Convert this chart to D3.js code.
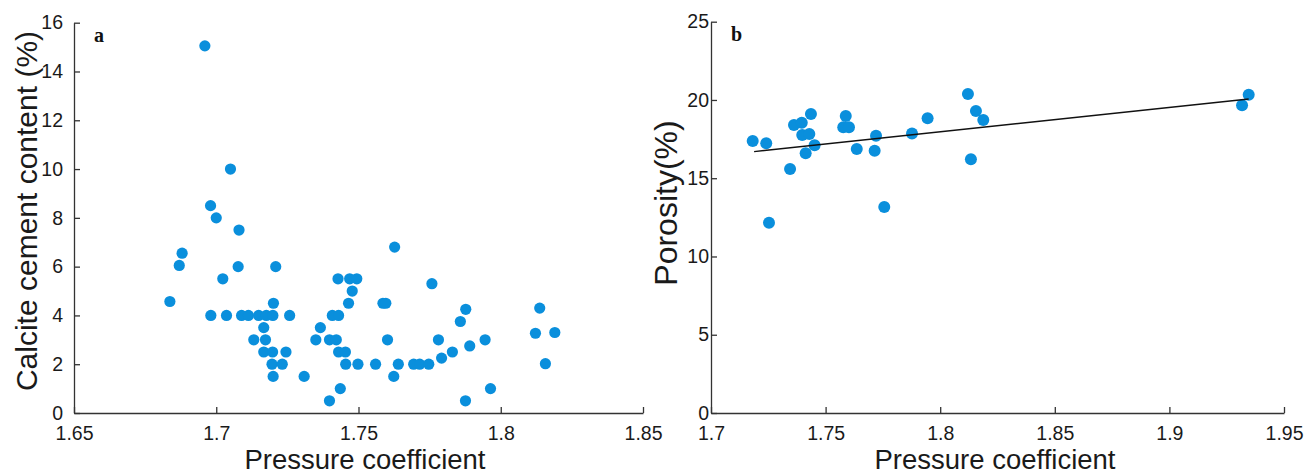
<!DOCTYPE html>
<html>
<head>
<meta charset="utf-8">
<script src="https://cdn.jsdelivr.net/npm/d3@7"></script>
<style>
  html, body { margin: 0; padding: 0; background: #fff; }
  svg { display: block; font-family: "Liberation Sans", Arial, sans-serif; }
</style>
</head>
<body>
<svg id="chart"></svg>
<script>
// Panel a: pressure coefficient vs calcite cement content (%)
const calciteX = [1.696, 1.705, 1.698, 1.700, 1.708, 1.688, 1.687, 1.7077, 1.7209, 1.7023,
  1.6837, 1.6981, 1.7036, 1.7089, 1.7113, 1.7149, 1.7176, 1.7199, 1.7258, 1.7408,
  1.7430, 1.7201, 1.7167, 1.7132, 1.7173, 1.7167, 1.7198, 1.7245, 1.7196, 1.7232,
  1.7200, 1.7309, 1.7398, 1.7436, 1.7350, 1.7366, 1.7398, 1.7422, 1.7430, 1.7454,
  1.7455, 1.7498, 1.7465, 1.7478, 1.7428, 1.7469, 1.7494, 1.7560, 1.7586, 1.7596,
  1.7602, 1.7627, 1.7624, 1.7640, 1.7694, 1.7715, 1.7747, 1.7758, 1.7877, 1.7858,
  1.7781, 1.7945, 1.7891, 1.7830, 1.7792, 1.7876, 1.7964, 1.8137, 1.8122, 1.8190,
  1.8157];
const calciteY = [15.05, 10.0, 8.5, 8.0, 7.5, 6.55, 6.05, 6.0, 6.0, 5.5,
  4.57, 4.0, 4.0, 4.0, 4.0, 4.0, 4.0, 4.0, 4.0, 4.0,
  4.0, 4.5, 3.5, 3.0, 3.0, 2.5, 2.5, 2.5, 2.0, 2.0,
  1.5, 1.5, 0.5, 1.0, 3.0, 3.5, 3.0, 3.0, 2.5, 2.5,
  2.0, 2.0, 4.5, 5.0, 5.5, 5.5, 5.5, 2.0, 4.5, 4.5,
  3.0, 6.8, 1.5, 2.0, 2.0, 2.0, 2.0, 5.3, 4.25, 3.75,
  3.0, 3.0, 2.75, 2.5, 2.25, 0.5, 1.0, 4.3, 3.27, 3.3,
  2.02];

// Panel b: pressure coefficient vs porosity (%)
const porosityX = [1.7182, 1.7241, 1.7253, 1.7345, 1.7362, 1.7396, 1.7436, 1.7398, 1.7429, 1.7452,
  1.7413, 1.7588, 1.7577, 1.7602, 1.7636, 1.7720, 1.7714, 1.7756, 1.7877, 1.7945,
  1.8121, 1.8134, 1.8156, 1.8188, 1.9317, 1.9346];
const porosityY = [17.38, 17.23, 12.16, 15.59, 18.40, 18.55, 19.11, 17.76, 17.83, 17.11,
  16.59, 18.98, 18.26, 18.26, 16.87, 17.72, 16.76, 13.16, 17.85, 18.83,
  20.38, 16.21, 19.30, 18.72, 19.66, 20.34];

// Fitted trend line for panel b (end points)
const trendX = [1.7188, 1.9346];
const trendY = [16.70, 20.06];

// Tick values
const ticksAX = [1.65, 1.7, 1.75, 1.8, 1.85];
const ticksAY = [0, 2, 4, 6, 8, 10, 12, 14, 16];
const ticksBX = [1.7, 1.75, 1.8, 1.85, 1.9, 1.95];
const ticksBY = [0, 5, 10, 15, 20, 25];

const width = 1312, height = 476;
const dotColor = "#0a8fdc";
const axisColor = "#333";

const svg = d3.select("#chart")
    .attr("width", width)
    .attr("height", height);

const fmt = d => String(+d.toFixed(2));

function drawPanel(opt) {
    const x = d3.scaleLinear().domain(opt.xDomain).range([opt.left, opt.right]);
    const y = d3.scaleLinear().domain(opt.yDomain).range([opt.bottom, opt.top]);
    const g = svg.append("g");

    const xAxis = g.append("g")
        .attr("transform", `translate(0,${opt.bottom})`)
        .call(d3.axisBottom(x).tickValues(opt.xTicks).tickFormat(fmt)
            .tickSizeInner(-6).tickSizeOuter(0).tickPadding(13));
    const yAxis = g.append("g")
        .attr("transform", `translate(${opt.left},0)`)
        .call(d3.axisLeft(y).tickValues(opt.yTicks).tickFormat(fmt)
            .tickSizeInner(-6).tickSizeOuter(0).tickPadding(opt.yPad));

    [xAxis, yAxis].forEach(a => {
        a.selectAll("path, line").attr("stroke", axisColor).attr("stroke-width", 1.3);
        a.selectAll("text")
            .attr("fill", "#1a1a1a")
            .style("font-size", "19.5px")
            .style("font-family", "'Liberation Sans', Arial, sans-serif");
    });

    // scatter points
    g.append("g").selectAll("circle")
        .data(opt.xs.map((v, i) => ({ x: v, y: opt.ys[i] })))
        .enter()
        .append("circle")
        .attr("cx", d => x(d.x))
        .attr("cy", d => y(d.y))
        .attr("r", opt.r)
        .attr("fill", dotColor);

    if (opt.trend) {
        const line = d3.line().x(d => x(d.x)).y(d => y(d.y));
        g.append("path")
            .datum(opt.trend)
            .attr("d", line)
            .attr("fill", "none")
            .attr("stroke", "#111")
            .attr("stroke-width", 1.4);
    }

    // panel letter
    g.append("text")
        .attr("x", opt.letterX)
        .attr("y", opt.top + 19)
        .attr("font-family", "'Liberation Serif', 'Times New Roman', serif")
        .attr("font-weight", "bold")
        .attr("font-size", 20)
        .attr("fill", "#111")
        .text(opt.letter);

    // x label
    g.append("text")
        .attr("x", opt.xLabelX)
        .attr("y", 469)
        .attr("text-anchor", "middle")
        .attr("font-size", 27.5)
        .attr("fill", "#1a1a1a")
        .text("Pressure coefficient");

    // y label
    g.append("text")
        .attr("transform", `translate(${opt.yLabelX},${opt.yLabelY}) rotate(-90)`)
        .attr("text-anchor", "middle")
        .attr("font-size", opt.yLabelSize)
        .attr("fill", "#1a1a1a")
        .text(opt.yLabel);
}

drawPanel({
    xDomain: [1.65, 1.85], yDomain: [0, 16],
    left: 74, right: 643, top: 22.7, bottom: 413,
    xTicks: ticksAX, yTicks: ticksAY, yPad: 11,
    xs: calciteX, ys: calciteY, r: 5.6,
    letter: "a", letterX: 94,
    xLabelX: 365, yLabelX: 37, yLabelY: 211, yLabelSize: 30,
    yLabel: "Calcite cement content (%)"
});

drawPanel({
    xDomain: [1.7, 1.95], yDomain: [0, 25],
    left: 711, right: 1284, top: 21.7, bottom: 413,
    xTicks: ticksBX, yTicks: ticksBY, yPad: 2,
    xs: porosityX, ys: porosityY, r: 6,
    trend: trendX.map((v, i) => ({ x: v, y: trendY[i] })),
    letter: "b", letterX: 731,
    xLabelX: 995, yLabelX: 677, yLabelY: 203, yLabelSize: 32,
    yLabel: "Porosity(%)"
});
</script>
</body>
</html>
